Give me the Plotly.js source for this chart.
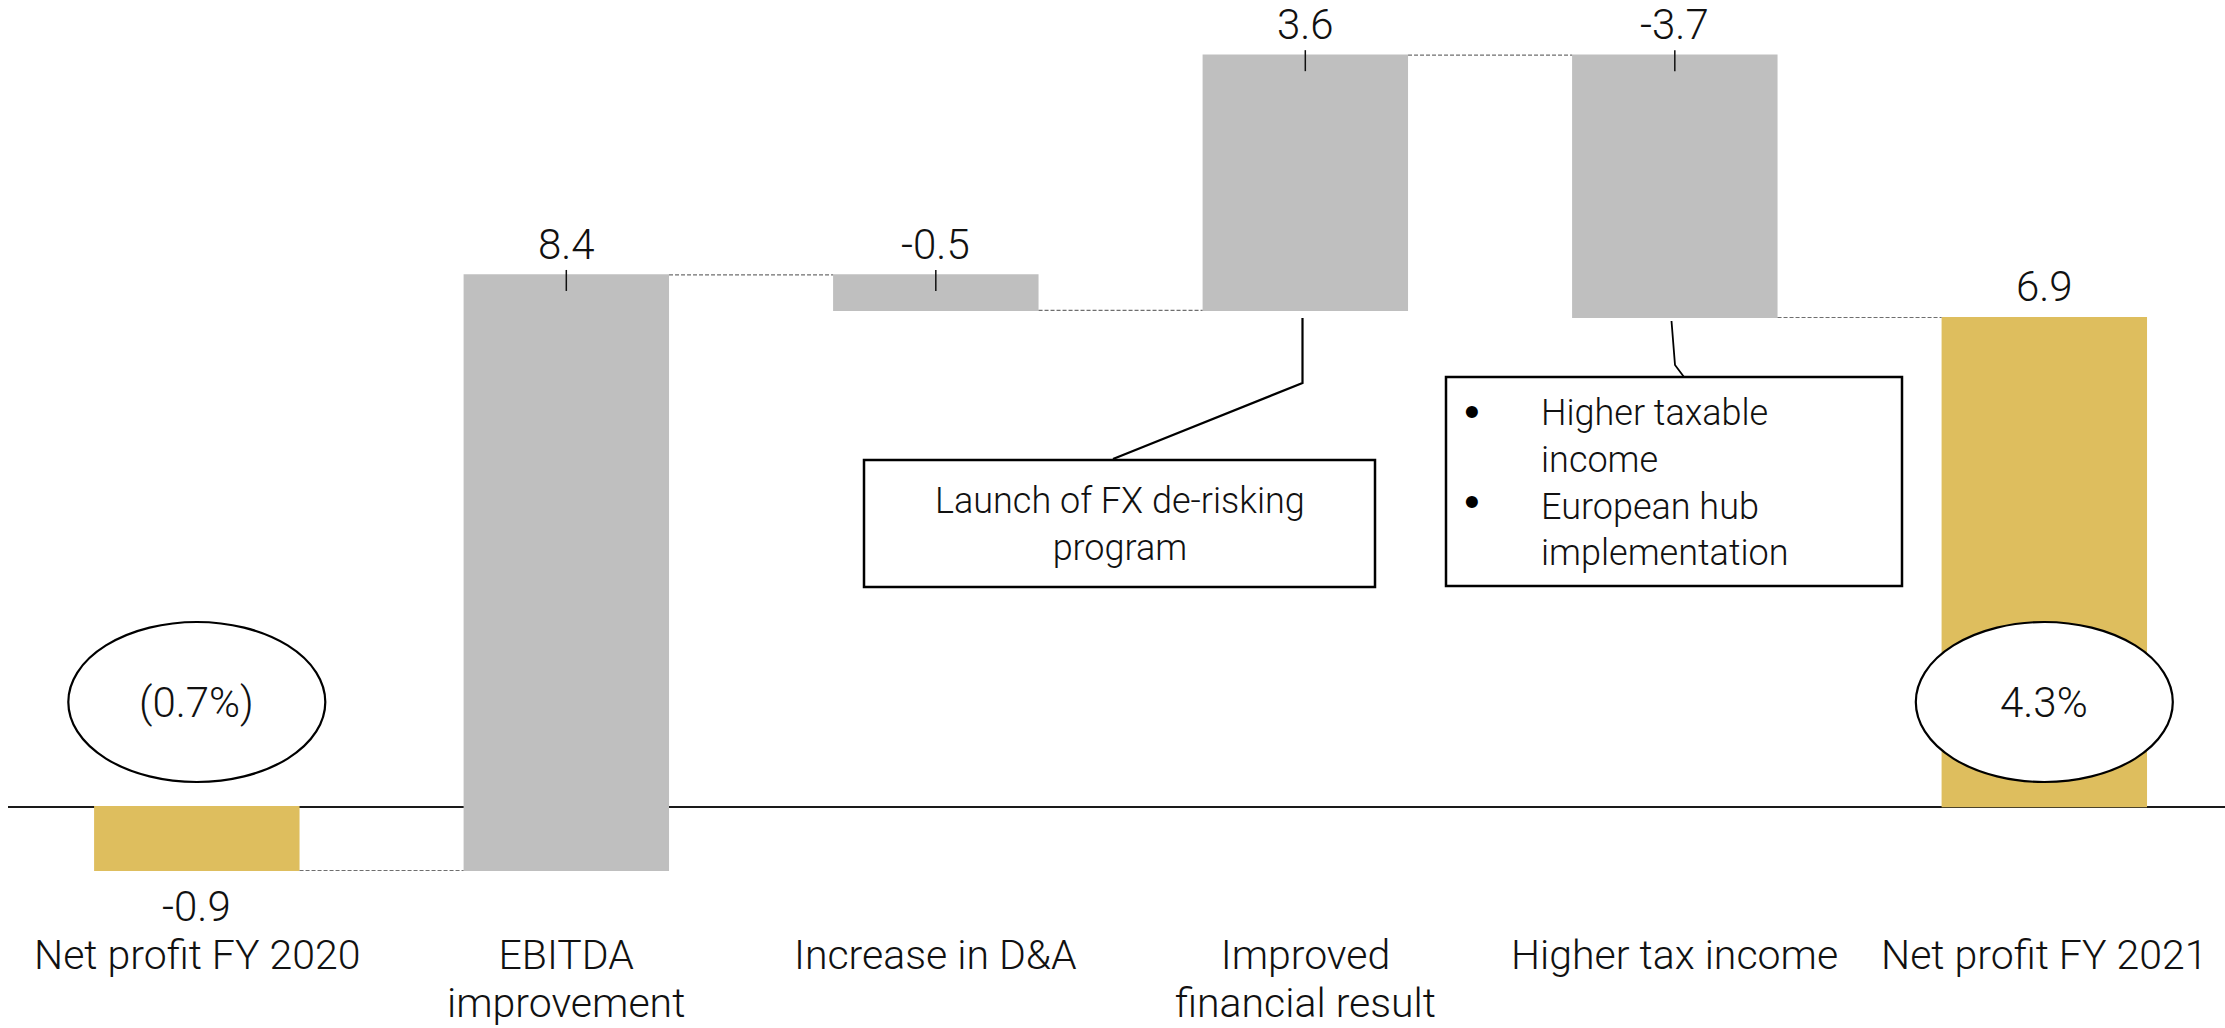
<!DOCTYPE html>
<html>
<head>
<meta charset="utf-8">
<script src="https://cdn.plot.ly/plotly-3.0.1.min.js"></script>
<style>
  html, body { margin: 0; padding: 0; background: #ffffff; }
  #chart { width: 2225px; height: 1028px; }
</style>
</head>
<body>
<div id="chart"></div>
<script>
// Net profit bridge FY 2020 -> FY 2021
const categories = [
  'Net profit FY 2020',
  'EBITDA<br>improvement',
  'Increase in D&A',
  'Improved<br>financial result',
  'Higher tax income',
  'Net profit FY 2021'
];
const values = [-0.9, 8.4, -0.5, 3.6, -3.7, 6.9];
const measures = ['absolute', 'relative', 'relative', 'relative', 'relative', 'total'];
const valueLabels = ['-0.9', '8.4', '-0.5', '3.6', '-3.7', '6.9'];
const marginLabels = ['(0.7%)', null, null, null, null, '4.3%'];
const fxNote = 'Launch of FX de-risking<br>program';
const taxNotes = ['Higher taxable<br>income', 'European hub<br>implementation'];

const GOLD = '#DEBE5E';
const GREY = '#BFBFBF';
const FONT = 'Roboto, "Open Sans", sans-serif';
const INK = '#111111';

// plot area geometry (pixels)
const L = 8, W = 2217, T = 0, H = 933;
const ZERO_Y = 806.7, PX_PER_UNIT = 70.9;
const px = x => (x - L) / W;
const py = y => (T + H - y) / H;

// running totals for bar ends
const tops = [], bottoms = [];
let run = 0;
values.forEach((v, i) => {
  let start, end;
  if (measures[i] === 'absolute') { start = 0; end = v; }
  else if (measures[i] === 'total') { start = 0; end = run; }
  else { start = run; end = run + v; }
  run = end;
  tops.push(Math.max(start, end));
  bottoms.push(Math.min(start, end));
});

const trace = {
  type: 'waterfall',
  x: categories,
  y: values,
  measure: measures,
  textinfo: 'none',
  hoverinfo: 'skip',
  increasing: { marker: { color: GREY } },
  decreasing: { marker: { color: GREY } },
  totals: { marker: { color: GOLD } },
  connector: { mode: 'between', line: { color: '#6e6e6e', width: 1.2, dash: '4px,2px' } }
};

const annotations = [];
const shapes = [];

values.forEach((v, i) => {
  const below = (measures[i] !== 'relative') && v < 0;
  annotations.push({
    x: i, y: below ? bottoms[i] : tops[i], xref: 'x', yref: 'y',
    text: valueLabels[i], showarrow: false,
    yanchor: below ? 'top' : 'bottom', yshift: below ? -9 : 4,
    font: { family: FONT, size: 42, color: INK, weight: 300 }
  });
  if (measures[i] === 'relative') {
    shapes.push({
      type: 'line', xref: 'x', yref: 'y', ysizemode: 'pixel', yanchor: tops[i],
      x0: i, x1: i, y0: -16, y1: 5,
      line: { color: INK, width: 1.5 }
    });
  }
  if (marginLabels[i]) {
    shapes.push({
      type: 'circle', xref: 'x', yref: 'paper', xsizemode: 'pixel',
      xanchor: i, x0: -128.5, x1: 128.5, y0: py(782), y1: py(622),
      fillcolor: '#ffffff', line: { color: '#000', width: 2.2 }, layer: 'above'
    });
    annotations.push({
      x: i, y: py(702), xref: 'x', yref: 'paper', text: marginLabels[i],
      showarrow: false, xanchor: 'center', yanchor: 'middle',
      font: { family: FONT, size: 42, color: INK, weight: 300 }
    });
  }
});

// category names under the bars; the base size sets a tight line pitch
// while each line is drawn at 41px
categories.forEach((c, i) => {
  const text = c.split('<br>')
    .map(line => `<span style="font-size:41px">${line}</span>`)
    .join('<br>');
  annotations.push({
    x: i, y: py(930), xref: 'x', yref: 'paper', text: text,
    showarrow: false, xanchor: 'center', yanchor: 'top', align: 'center',
    borderpad: 0,
    font: { family: FONT, size: 36.9, color: INK, weight: 300 }
  });
});

// FX callout
shapes.push({
  type: 'rect', xref: 'paper', yref: 'paper',
  x0: px(864), x1: px(1375), y0: py(587), y1: py(460),
  line: { color: '#000', width: 2.5 }, fillcolor: 'rgba(0,0,0,0)'
});
shapes.push({
  type: 'path', xref: 'paper', yref: 'paper',
  path: `M ${px(1302.5)} ${py(318)} L ${px(1302.5)} ${py(383)} L ${px(1113)} ${py(459)}`,
  line: { color: '#000', width: 2.2 }
});
annotations.push({
  x: px(1120), y: py(524), xref: 'paper', yref: 'paper', text: fxNote,
  showarrow: false, xanchor: 'center', yanchor: 'middle', align: 'center',
  font: { family: FONT, size: 36, color: INK, weight: 300 }
});

// tax callout
shapes.push({
  type: 'rect', xref: 'paper', yref: 'paper',
  x0: px(1446), x1: px(1902), y0: py(586), y1: py(377),
  line: { color: '#000', width: 2.5 }, fillcolor: 'rgba(0,0,0,0)'
});
shapes.push({
  type: 'path', xref: 'paper', yref: 'paper',
  path: `M ${px(1671.5)} ${py(321)} L ${px(1675)} ${py(365)} L ${px(1684)} ${py(377)}`,
  line: { color: '#000', width: 1.8 }
});
annotations.push({
  x: px(1539), y: py(483), xref: 'paper', yref: 'paper', text: taxNotes.join('<br>'),
  showarrow: false, xanchor: 'left', yanchor: 'middle', align: 'left',
  font: { family: FONT, size: 36, color: INK, weight: 300 }
});
// one bullet per note, level with the note's first line
[413, 503].forEach(by => {
  annotations.push({
    x: px(1472), y: py(by), xref: 'paper', yref: 'paper', text: '•',
    showarrow: false, xanchor: 'center', yanchor: 'middle',
    font: { family: '"DejaVu Sans", sans-serif', size: 34, color: '#000', weight: 700 }
  });
});

const layout = {
  width: 2225, height: 1028,
  margin: { l: L, r: 2225 - L - W, t: T, b: 1028 - T - H, pad: 0 },
  paper_bgcolor: '#ffffff', plot_bgcolor: '#ffffff',
  showlegend: false,
  waterfallgap: 0.444,
  xaxis: {
    type: 'category', range: [-0.511, 5.489], fixedrange: true,
    showgrid: false, showline: false, zeroline: false, ticks: '',
    showticklabels: false
  },
  yaxis: {
    range: [-(T + H - ZERO_Y) / PX_PER_UNIT, (ZERO_Y - T) / PX_PER_UNIT], fixedrange: true,
    showgrid: false, showline: false, showticklabels: false, ticks: '',
    zeroline: true, zerolinecolor: '#1a1a1a', zerolinewidth: 2
  },
  shapes: shapes,
  annotations: annotations
};

Plotly.newPlot('chart', [trace], layout, { staticPlot: true, displayModeBar: false });
</script>
</body>
</html>
